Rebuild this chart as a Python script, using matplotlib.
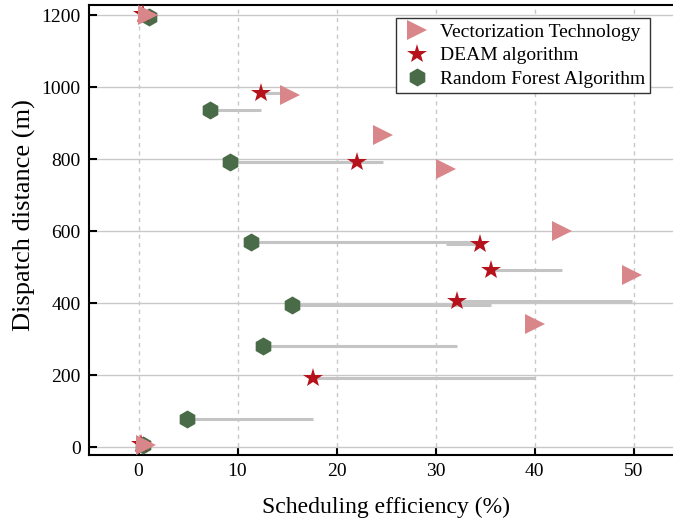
import numpy as np
import matplotlib
matplotlib.use('Agg')
import matplotlib.pyplot as plt

plt.rcParams['font.family'] = ['Liberation Serif', 'DejaVu Serif']
plt.rcParams['mathtext.fontset'] = 'stix'

# Data (index 0 = bottom)
vec_x = [0.8, 40.0, 49.8, 42.8, 31.1, 24.7, 15.3, 1.0]
vec_y = [5, 343, 477, 600, 772, 867, 978, 1200]

deam_x = [0.3, 17.6, 32.2, 35.6, 34.5, 22.1, 12.4, 0.5]
deam_y = [8, 192, 405, 493, 564, 791, 983, 1202]

rf_x = [0.5, 4.9, 12.6, 15.5, 11.4, 9.2, 7.2, 1.1]
rf_y = [5, 78, 281, 394, 570, 791, 936, 1196]

fig = plt.figure(figsize=(6.73, 5.22), dpi=100)
ax = fig.add_axes([89 / 673, 67 / 522, 594 / 673, 450 / 522])

# connector lines: forest -> DEAM, DEAM -> vectorization
for i in range(len(rf_x)):
    ax.plot([rf_x[i], deam_x[i]], [rf_y[i], rf_y[i]], color='#c4c4c4', lw=2.2, zorder=2,
            solid_capstyle='butt')
    ax.plot([deam_x[i], vec_x[i]], [deam_y[i], deam_y[i]], color='#c4c4c4', lw=2.2, zorder=2,
            solid_capstyle='butt')

ax.plot(rf_x, rf_y, ls='none', marker='h', ms=13, color='#4a6b47', mew=0, zorder=3,
        label='Random Forest Algorithm')
ax.plot(deam_x, deam_y, ls='none', marker='*', ms=15, color='#b5121b', mew=0, zorder=4,
        label='DEAM algorithm')
ax.plot(vec_x, vec_y, ls='none', marker='>', ms=14, color='#d9868b', mew=0, zorder=5,
        label='Vectorization Technology')

ax.set_xlim(-5, 55)
ax.set_ylim(-22, 1228)
ax.set_xticks([0, 10, 20, 30, 40, 50])
ax.set_yticks([0, 200, 400, 600, 800, 1000, 1200])

ax.grid(axis='y', color='#c8c8c8', lw=1.0, ls='-')
ax.grid(axis='x', color='#c8c8c8', lw=1.0, ls=(0, (3, 3)))
ax.set_axisbelow(True)

ax.tick_params(direction='in', length=6, width=1.5, labelsize=14, pad=6)
for s in ['left', 'bottom', 'top']:
    ax.spines[s].set_linewidth(1.5)
ax.spines['right'].set_visible(False)

ax.set_xlabel('Scheduling efficiency (%)', fontsize=17, labelpad=12)
ax.set_ylabel('Dispatch distance (m)', fontsize=19)
ax.yaxis.set_label_coords(-0.089, 0.533)

h, l = ax.get_legend_handles_labels()
leg = ax.legend(h[::-1], l[::-1], loc='upper right', bbox_to_anchor=(0.945, 0.97),
                borderaxespad=0, fontsize=14, fancybox=False, framealpha=1,
                edgecolor='#333333', handletextpad=0.4, labelspacing=0.3,
                borderpad=0.25, handlelength=1.6)
leg.get_frame().set_linewidth(1.0)

fig.savefig('out.png', dpi=100)
